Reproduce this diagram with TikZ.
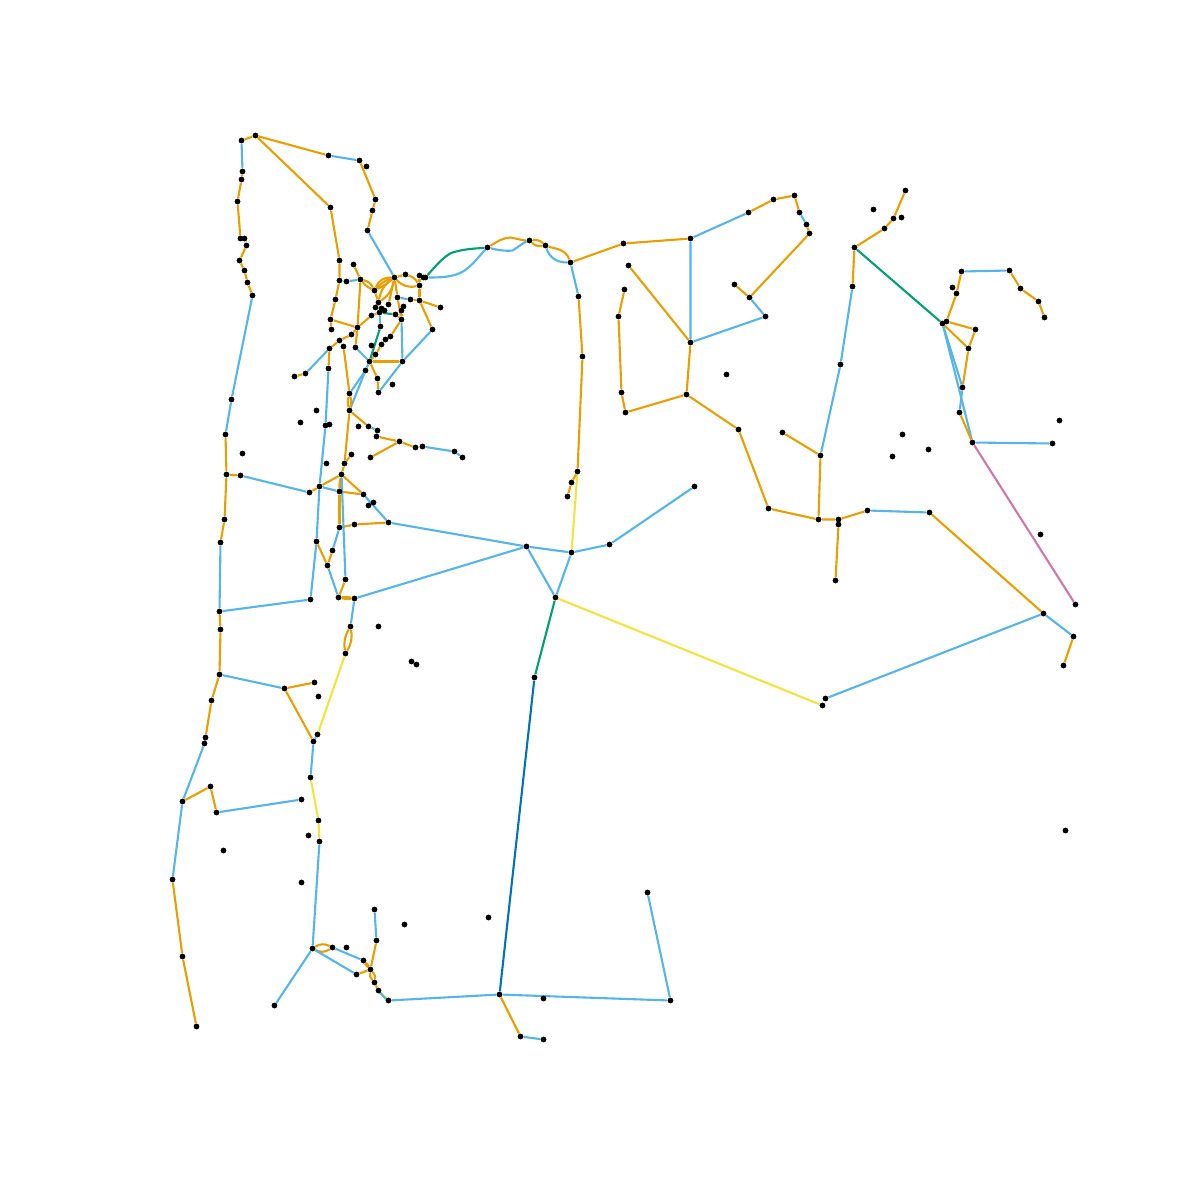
\documentclass[tikz,border=0pt]{standalone}
\usetikzlibrary{backgrounds}
\definecolor{co}{HTML}{E69F00}
\definecolor{cb}{HTML}{56B4E9}
\definecolor{cg}{HTML}{009E73}
\definecolor{cy}{HTML}{F0E442}
\definecolor{cd}{HTML}{0072B2}
\definecolor{cp}{HTML}{CC79A7}
\tikzset{
  dot/.style={circle,fill=black,draw=none,inner sep=0pt,minimum size=2.9pt},
  edge/.style={line width=1.05pt,line join=round},
  eo/.style={edge,draw=co},
  eb/.style={edge,draw=cb},
  eg/.style={edge,draw=cg},
  ey/.style={edge,draw=cy},
  ed/.style={edge,draw=cd},
  ep/.style={edge,draw=cp}
}
\begin{document}
\begin{tikzpicture}[x=0.5pt,y=-0.5pt,shift={(0.5,0.5)}]
\useasboundingbox (-0.5,-0.5) rectangle (1199.5,1199.5);
\foreach \x/\y in {
241/140,255/135,328/155,359/160,366/166,375/199,372/210,367/230,242/171,241/179,237/201,240/238,244/238,246/245,239/260,244/270,247/282,252/295,231/399,225/434,226/474,240/475,224/519,220/542,219/611,220/629,219/674,211/700,205/737,204/743,182/801,210/786,216/812,301/799,172/879,182/956,196/1026,330/207,
339/260,353/264,339/280,346/281,360/279,335/299,330/319,331/329,357/327,351/334,339/340,329/348,328/368,343/346,355/347,369/361,365/370,377/378,402/361,432/329,440/307,419/300,410/299,397/297,419/285,419/275,423/277,425/277,405/274,394/277,374/290,378/302,388/304,375/307,381/308,384/310,379/312,371/315,395/314,403/306,401/310,401/319,380/326,390/336,385/339,381/344,371/345,375/354,
294/376,305/373,325/425,329/424,316/410,300/422,349/393,349/410,378/392,392/384,358/426,368/426,377/430,376/436,399/441,415/447,422/446,454/451,462/457,370/457,351/454,344/463,326/463,341/474,319/486,309/492,339/491,363/494,373/502,368/505,388/522,354/524,339/527,316/541,332/550,327/565,345/579,338/597,354/598,310/599,
350/626,345/653,317/734,313/741,310/777,318/820,319/841,308/835,301/882,223/850,314/682,318/696,284/688,
312/948,332/947,346/947,363/960,370/969,356/974,374/982,378/990,388/1000,376/940,374/909,404/924,274/1005,499/994,670/1000,520/1036,543/1039,543/998,647/892,488/917,534/677,555/597,526/546,571/552,609/544,694/486,577/471,571/482,567/496,582/356,578/296,570/262,822/705,825/698,1043/613,1073/636,1063/665,929/512,
487/247,529/240,545/245,623/243,690/238,748/212,773/199,794/195,799/212,806/224,809/233,749/297,734/284,765/316,690/342,628/265,686/394,625/412,621/392,618/316,624/289,738/429,768/508,818/519,820/455,782/432,838/519,838/524,867/510,835/580,852/286,840/364,854/247,884/228,893/218,905/190,873/209,901/217,726/374,902/434,892/456,928/449,1059/420,1052/443,1040/534,1075/604,1065/830,378/626,411/661,416/664,242/453,
961/271,1009/270,1020/288,1038/301,1044/317,952/287,956/293,946/321,942/323,975/329,968/348,962/387,959/412,972/442}
  \node[dot] (p\x-\y) at (\x,\y) {};
\begin{scope}[on background layer]
\fill[white] (-0.5,-0.5) rectangle (1199.5,1199.5);
% west
\draw[eo] (p241-140) -- (p255-135) -- (p328-155);
\draw[eo] (p255-135) -- (p330-207) -- (p339-260) -- (p339-280) -- (p335-299) -- (p330-319) -- (p331-329);
\draw[eb] (p241-140) -- (p242-171);
\draw[eb] (p328-155) -- (p359-160);
\draw[eo] (p359-160) -- (p375-199) -- (p372-210) -- (p367-230);
\draw[eb] (p367-230) -- (p394-277);
\draw[eo] (p242-171) -- (p241-179) -- (p237-201) -- (p240-238) -- (p244-238) -- (p246-245) -- (p239-260) -- (p244-270) -- (p247-282) -- (p252-295);
\draw[eb] (p252-295) -- (p231-399) -- (p225-434);
\draw[eo] (p225-434) -- (p226-474) -- (p224-519) -- (p220-542);
\draw[eo] (p226-474) -- (p240-475);
\draw[eb] (p240-475) -- (p309-492);
\draw[eb] (p220-542) -- (p219-611) -- (p310-599);
\draw[eo] (p219-611) -- (p220-629) -- (p219-674) -- (p211-700) -- (p205-737) -- (p204-743);
\draw[eb] (p204-743) -- (p182-801) -- (p172-879);
\draw[eo] (p182-801) -- (p210-786) -- (p216-812);
\draw[eb] (p216-812) -- (p301-799);
\draw[eo] (p172-879) -- (p182-956) -- (p196-1026);
\draw[eb] (p219-674) -- (p284-688);
\draw[eo] (p284-688) -- (p314-682);
\draw[eo] (p284-688) -- (p313-741);
\draw[eb] (p313-741) -- (p310-777);
\draw[ey] (p310-777) -- (p318-820) -- (p319-841);
\draw[eb] (p319-841) -- (p312-948);
\draw[ey] (p345-653) -- (p317-734);
\draw[eb] (p317-734) -- (p313-741);
% dense cluster
\draw[eo] (p330-319) -- (p357-327);
\draw[eo] (p357-327) -- (p360-279);
\draw[eo] (p353-264) -- (p360-279);
\draw[eo] (p339-280) -- (p346-281);
\draw[eb] (p346-281) -- (p360-279);
\draw[eo] (p360-279) to[bend left=25] (p374-290);
\draw[eo] (p360-279) to[bend right=12] (p374-290);
\draw[eo] (p374-290) to[bend left=35] (p394-277);
\draw[eo] (p374-290) to[bend left=15] (p394-277);
\draw[eo] (p374-290) to[bend right=5] (p394-277);
\draw[eo] (p374-290) -- (p378-302);
\draw[eo] (p378-302) to[bend left=22] (p394-277);
\draw[eo] (p378-302) to[bend right=22] (p394-277);
\draw[eo] (p378-302) -- (p381-308);
\draw[eo] (p388-304) -- (p394-277);
\draw[eo] (p394-277) -- (p405-274);
\draw[eo] (p394-277) to[bend right=30] (p419-285);
\draw[eo] (p405-274) to[bend left=20] (p419-285);
\draw[eo] (p394-277) -- (p397-297) -- (p401-319);
\draw[eb] (p397-297) -- (p410-299);
\draw[eo] (p410-299) -- (p419-300);
\draw[eo] (p419-275) -- (p419-285) -- (p419-300);
\draw[eo] (p419-300) -- (p440-307);
\draw[eo] (p419-300) -- (p432-329);
\draw[eb] (p432-329) -- (p402-361) -- (p378-392);
\draw[eo] (p401-310) -- (p403-306);
\draw[eo] (p401-310) -- (p401-319);
\draw[eo] (p395-314) -- (p401-319);
\draw[eg] (p379-312) -- (p395-314);
\draw[eb] (p401-319) -- (p402-361);
\draw[eo] (p401-319) -- (p390-336) -- (p385-339) -- (p381-344) -- (p375-354);
\draw[eo] (p375-354) -- (p369-361);
\draw[eo] (p357-327) -- (p371-315) -- (p379-312);
\draw[eb] (p379-312) -- (p380-326);
\draw[eg] (p380-326) -- (p369-361);
\draw[eo] (p357-327) -- (p351-334) -- (p339-340) -- (p329-348);
\draw[eo] (p357-327) -- (p355-347);
\draw[eb] (p355-347) -- (p369-361);
\draw[eo] (p369-361) -- (p402-361);
\draw[eo] (p369-361) -- (p377-378);
\draw[eo] (p377-378) -- (p378-392);
\draw[eb] (p369-361) -- (p365-370);
\draw[eb] (p365-370) -- (p349-393);
\draw[eb] (p365-370) -- (p349-410);
\draw[eo] (p329-348) -- (p328-368);
\draw[eb] (p329-348) -- (p305-373);
\draw[eo] (p305-373) -- (p294-376);
% central column
\draw[eb] (p328-368) -- (p325-425) -- (p319-486) -- (p316-541) -- (p310-599);
\draw[eo] (p343-346) -- (p349-393);
\draw[eo] (p349-393) to[bend left=15] (p349-410);
\draw[eo] (p349-393) to[bend right=15] (p349-410);
\draw[eo] (p349-410) -- (p344-463);
\draw[eo] (p349-410) -- (p368-426);
\draw[eb] (p368-426) -- (p377-430);
\draw[eo] (p376-436) -- (p399-441) -- (p415-447) -- (p422-446);
\draw[eo] (p399-441) -- (p370-457);
\draw[eb] (p422-446) -- (p454-451) -- (p462-457);
\draw[eo] (p344-463) -- (p351-454);
\draw[eo] (p344-463) -- (p341-474);
\draw[eo] (p341-474) -- (p319-486) -- (p309-492);
\draw[eb] (p319-486) -- (p339-491);
\draw[eo] (p341-474) to[bend left=8] (p339-491);
\draw[eo] (p341-474) to[bend right=8] (p339-491);
\draw[eo] (p341-474) -- (p363-494);
\draw[eo] (p339-491) -- (p363-494);
\draw[eb] (p363-494) -- (p388-522);
\draw[eo] (p339-491) -- (p339-527);
\draw[eo] (p339-527) -- (p354-524) -- (p388-522);
\draw[eb] (p341-474) -- (p345-579);
\draw[eb] (p339-527) -- (p332-550);
\draw[eo] (p332-550) -- (p327-565);
\draw[eo] (p316-541) -- (p327-565);
\draw[eb] (p327-565) -- (p338-597);
\draw[eo] (p345-579) -- (p338-597);
\draw[eo] (p338-597) to[bend left=10] (p354-598);
\draw[eo] (p338-597) to[bend right=10] (p354-598);
\draw[eb] (p354-598) -- (p526-546);
\draw[eb] (p354-598) -- (p350-626);
\draw[eo] (p350-626) to[bend left=20] (p345-653);
\draw[eo] (p350-626) to[bend right=20] (p345-653);
\draw[eb] (p388-522) -- (p526-546);
% south
\draw[eo] (p312-948) to[bend left=30] (p332-947);
\draw[eo] (p312-948) to[bend right=30] (p332-947);
\draw[eb] (p332-947) -- (p363-960);
\draw[eo] (p363-960) to[bend left=12] (p370-969);
\draw[eo] (p363-960) to[bend right=12] (p370-969);
\draw[eb] (p312-948) -- (p356-974);
\draw[eo] (p356-974) -- (p370-969);
\draw[eo] (p370-969) -- (p376-940);
\draw[eb] (p376-940) -- (p374-909);
\draw[eo] (p370-969) to[bend left=25] (p374-982);
\draw[eo] (p370-969) to[bend right=25] (p374-982);
\draw[eo] (p374-982) -- (p378-990);
\draw[ey] (p378-990) -- (p388-1000);
\draw[eb] ([xshift=-0.4pt]p378-990.center) -- ([xshift=-0.4pt]p388-1000.center);
\draw[eb] (p312-948) -- (p274-1005);
\draw[eb] (p388-1000) -- (p499-994) -- (p670-1000) -- (p647-892);
\draw[eo] (p499-994) -- (p520-1036);
\draw[eb] (p520-1036) -- (p543-1039);
\draw[ed] (p499-994) -- (p534-677);
\draw[eg] (p534-677) -- (p555-597);
% centre
\draw[eb] (p555-597) -- (p526-546) -- (p571-552) -- (p609-544) -- (p694-486);
\draw[eb] (p555-597) -- (p571-552);
\draw[ey] (p555-597) -- (p822-705);
\draw[ey] (p571-552) -- (p577-471);
\draw[eo] (p577-471) -- (p571-482) -- (p567-496);
\draw[eo] (p577-471) -- (p582-356) -- (p578-296);
\draw[eb] (p578-296) -- (p570-262);
\draw[eb] (p825-698) -- (p1043-613) -- (p1073-636);
\draw[eo] (p1073-636) -- (p1063-665);
\draw[eo] (p929-512) -- (p1043-613);
% top curves
\draw[eg] (p425-277) .. controls (438,262) and (446,254) .. (452,252) .. controls (465,248) and (477,248) .. (p487-247);
\draw[eb] (p425-277) .. controls (445,277) and (458,276) .. (468,267) .. controls (475,261) and (480,254) .. (p487-247);
\draw[eo] (p487-247) .. controls (497,241) and (503,237) .. (510,237) .. controls (516,238) and (522,240) .. (p529-240);
\draw[eb] (p487-247) .. controls (495,249) and (505,251) .. (512,250) .. controls (517,247) and (523,242) .. (p529-240);
\draw[eo] (p529-240) to[bend left=25] (p545-245);
\draw[eo] (p529-240) to[bend right=25] (p545-245);
\draw[eo] (p545-245) .. controls (553,248) and (565,248) .. (p570-262);
\draw[eb] (p545-245) .. controls (549,257) and (556,262) .. (p570-262);
% north east
\draw[eo] (p570-262) -- (p623-243) -- (p690-238);
\draw[eb] (p690-238) -- (p748-212);
\draw[eo] (p748-212) -- (p773-199) -- (p794-195) -- (p799-212);
\draw[eb] (p799-212) -- (p806-224);
\draw[eo] (p806-224) -- (p809-233) -- (p749-297) -- (p734-284);
\draw[eb] (p749-297) -- (p765-316) -- (p690-342) -- (p690-238);
\draw[eo] (p690-342) -- (p628-265);
\draw[eo] (p690-342) -- (p686-394) -- (p625-412) -- (p621-392) -- (p618-316) -- (p624-289);
\draw[eo] (p686-394) -- (p738-429) -- (p768-508) -- (p818-519) -- (p820-455) -- (p782-432);
\draw[eo] (p818-519) -- (p838-519) -- (p867-510);
\draw[eo] (p838-519) -- (p838-524) -- (p835-580);
\draw[eb] (p867-510) -- (p929-512);
\draw[eb] (p820-455) -- (p840-364) -- (p852-286);
\draw[eo] (p852-286) -- (p854-247) -- (p884-228) -- (p893-218) -- (p905-190);
\draw[eg] (p854-247) -- (p942-323);
% east
\draw[eb] (p961-271) -- (p1009-270);
\draw[eo] (p1009-270) -- (p1020-288) -- (p1038-301) -- (p1044-317);
\draw[eo] (p961-271) -- (p956-293) -- (p946-321) -- (p942-323);
\draw[eo] (p946-321) -- (p975-329) -- (p968-348);
\draw[eo] (p942-323) -- (p968-348) -- (p962-387);
\draw[eb] (p942-323) -- (p962-387) -- (p959-412);
\draw[eb] (p942-323) -- (p972-442);
\draw[eo] (p959-412) -- (p972-442);
\draw[eb] (p972-442) -- (p1052-443);
\draw[ep] (p972-442) -- (p1075-604);
\end{scope}
\end{tikzpicture}
\end{document}
